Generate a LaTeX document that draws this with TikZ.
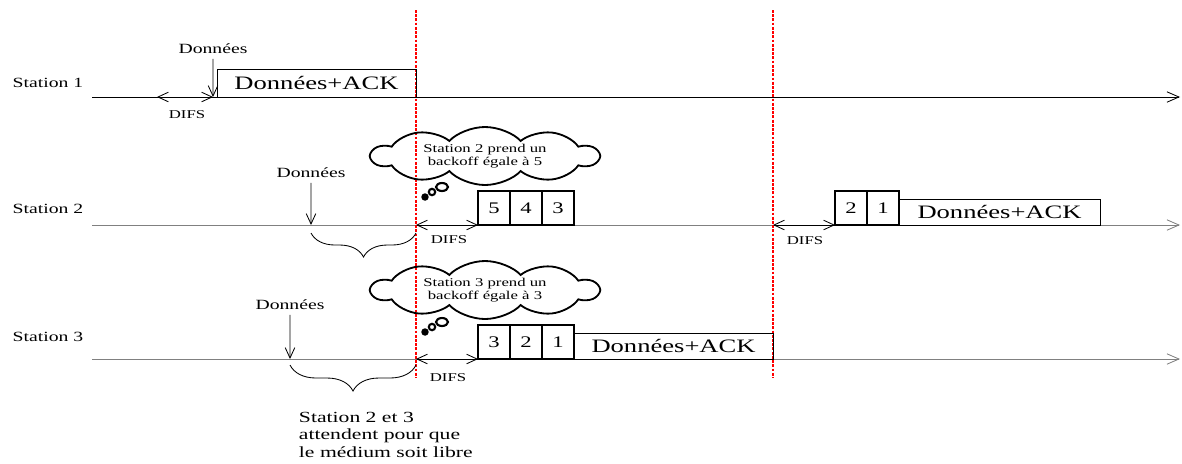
\documentclass[tikz,border=0pt]{standalone}
\usepackage{fontspec}
\setmainfont{Liberation Serif}
\usepackage{graphicx}
\usetikzlibrary{shapes.symbols,positioning,arrows.meta,decorations.pathreplacing}
\newcommand{\elargi}[1]{\scalebox{1.4}[1]{#1}}
\tikzstyle{temps} = [semithick, -{Straight Barb[length=3mm,width=2.6mm]}]
\tikzstyle{arrow} = [semithick, -{Straight Barb[length=2.6mm,width=2.4mm]}]
\tikzstyle{difs} = [semithick, {Straight Barb[length=2.6mm,width=2.4mm]}-{Straight Barb[length=2.6mm,width=2.4mm]}]
\tikzset{
 st/.style
  = {font=\fontsize{10}{11.7}\selectfont, xscale=1.4},
 pt/.style
  = {font=\fontsize{8.5}{10}\selectfont, xscale=1.4},
 num/.style
  = {rectangle, draw, thick, outer sep=0pt, minimum width=0.8cm, minimum height=0.85cm,
     font=\fontsize{11.5}{13}\selectfont},
 data/.style
  = {rectangle, draw, semithick, outer sep=0pt, minimum height=0.65cm,
     font=\fontsize{13.5}{15}\selectfont, anchor=south west},
 nuage/.style
  = {cloud, draw, line width=1.3pt, cloud puffs=10, cloud puff arc=115, cloud ignores aspect,
     minimum width=4.05cm, minimum height=1.45cm, inner sep=0pt, align=center, xscale=1.4,
     font=\fontsize{8.5}{9}\selectfont},
 bulle/.style
  = {line width=1.5pt},
 rouge/.style
  = {red, line width=0.8pt, dash pattern=on 2pt off 1pt},
 accolade/.style
  = {draw, semithick, decorate, decoration={brace, mirror, amplitude=#1}},
}

\begin{document}
\begin{tikzpicture}[x=0.025cm, y=-0.025cm]
\useasboundingbox (0,0) rectangle (1182,463);

\coordinate (d1) at (92,97);
\coordinate (f1) at (1180,97);
\coordinate (d2) at (92,225);
\coordinate (f2) at (1180,225);
\coordinate (d3) at (92,359);
\coordinate (f3) at (1180,359);
\coordinate (r1h) at (416,10);
\coordinate (r1b) at (416,378);
\coordinate (r2h) at (773,10);
\coordinate (r2b) at (773,378);

\node (st1) [st] at (48,83) {Station 1};
\node (st2) [st] at (48,209) {Station 2};
\node (st3) [st] at (48,337) {Station 3};

\draw [temps] (d1) -- (f1);
\draw [temps, gray] (d2) -- (f2);
\draw [temps, gray] (d3) -- (f3);
\draw [rouge] (r1h) -- (r1b);
\draw [rouge] (r2h) -- (r2b);

% station 1
\coordinate (t1) at (213,97);
\coordinate (q1) at (157,97);
\node (don1) [st] at (213,49) {Données};
\node (da1) [data, minimum width=4.975cm, minimum height=0.7cm] at (217,97) {\elargi{Données+ACK}};
\node (difs1) [pt] at (187,115) {DIFS};
\draw [arrow] (don1) -- (t1);
\draw [difs] (q1) -- (t1);

% station 2
\coordinate (t2) at (311,225);
\coordinate (p2) at (416,225);
\coordinate (p3) at (773,225);
\node (don2) [st] at (311,173) {Données};
\node (b5) [num, anchor=south west] at (478,225) {\elargi{5}};
\node (b4) [num, right=0pt of b5] {\elargi{4}};
\node (b3) [num, right=0pt of b4] {\elargi{3}};
\node (b2) [num, anchor=south west] at (835,225) {\elargi{2}};
\node (b1) [num, right=0pt of b2] {\elargi{1}};
\node (da2) [data, minimum width=5.025cm] at (b1.south east) {\elargi{Données+ACK}};
\node (difs2) [pt] at (449,240) {DIFS};
\node (difs3) [pt] at (805,241) {DIFS};
\node (nu2) [nuage] at (485,156) {Station 2 prend un\\backoff égale à 5};
\draw [arrow] (don2) -- (t2);
\draw [difs] (p2) -- (b5.south west);
\draw [difs] (p3) -- (b2.south west);
\draw [accolade=0.6cm] (311,233) -- (416,233);
\draw [bulle] (442,187) ellipse (6 and 4);
\draw [bulle] (432,192) circle (3.2);
\draw [bulle, fill] (425,197) circle (2.6);

% station 3
\coordinate (t3) at (290,359);
\coordinate (p4) at (416,359);
\node (don3) [st] at (290,305) {Données};
\node (c3) [num, anchor=south west] at (478,359) {\elargi{3}};
\node (c2) [num, right=0pt of c3] {\elargi{2}};
\node (c1) [num, right=0pt of c2] {\elargi{1}};
\node (da3) [data, minimum width=4.975cm] at (c1.south east) {\elargi{Données+ACK}};
\node (difs4) [pt] at (448,378) {DIFS};
\node (nu3) [nuage] at (485,290) {Station 3 prend un\\backoff égale à 3};
\node (att) [st, font=\fontsize{11}{12.5}\selectfont, align=left, anchor=north west] at (292,407) {Station 2 et 3\\attendent pour que\\le médium soit libre};
\draw [arrow] (don3) -- (t3);
\draw [difs] (p4) -- (c3.south west);
\draw [accolade=0.65cm] (290,365) -- (416,365);
\draw [bulle] (442,322) ellipse (6 and 4);
\draw [bulle] (432,327) circle (3.2);
\draw [bulle, fill] (425,332) circle (2.6);
\end{tikzpicture}
\end{document}
